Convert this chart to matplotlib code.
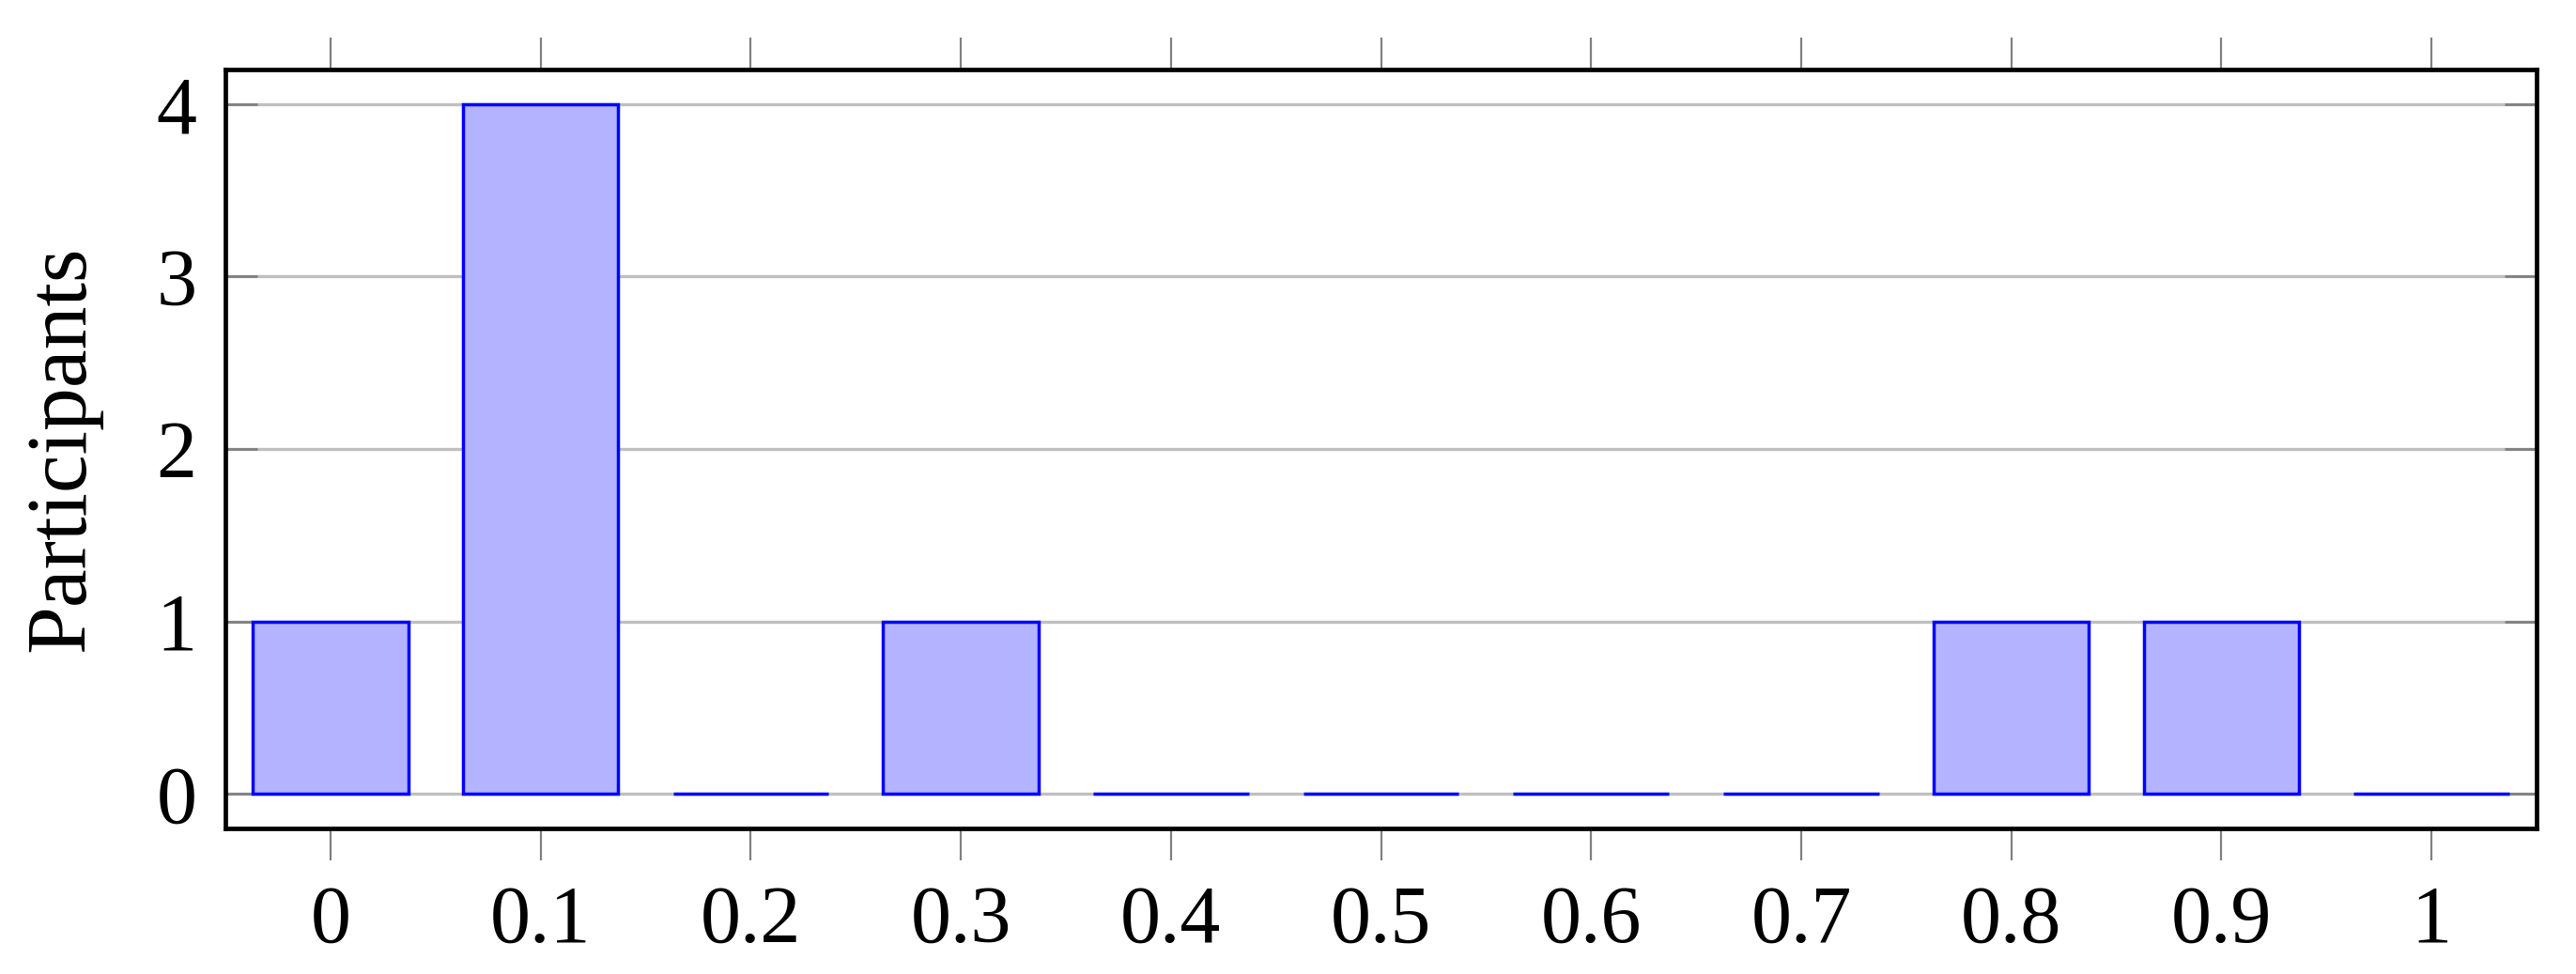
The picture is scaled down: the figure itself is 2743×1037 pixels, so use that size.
import matplotlib.pyplot as plt
import numpy as np

# data
scores = [0.0, 0.1, 0.2, 0.3, 0.4, 0.5, 0.6, 0.7, 0.8, 0.9, 1.0]
score_labels = ['0', '0.1', '0.2', '0.3', '0.4', '0.5', '0.6', '0.7', '0.8', '0.9', '1']
participants = [1, 4, 0, 1, 0, 0, 0, 0, 1, 1, 0]
y_ticks = [0, 1, 2, 3, 4]

plt.rcParams['font.family'] = ['Liberation Serif', 'DejaVu Serif']

fig = plt.figure(figsize=(27.43, 10.37), dpi=100)
ax = fig.add_axes([0.0875, 0.1495, 0.8972, 0.7791])

ax.bar(scores, participants, width=0.074, color='#b3b3ff',
       edgecolor='#0000ff', linewidth=2.5, zorder=2)

ax.set_xlim(-0.05, 1.05)
ax.set_ylim(-0.2, 4.2)
ax.set_xticks(scores)
ax.set_xticklabels(score_labels)
ax.set_yticks(y_ticks)

#######    grid + ticks    ######
ax.set_axisbelow(True)
ax.yaxis.grid(True, color='#bfbfbf', linewidth=2.4)
ax.tick_params(axis='x', direction='out', length=24.5, width=1.6,
               color='#808080', top=True, bottom=True, labelsize=62, pad=19)
ax.tick_params(axis='y', direction='in', length=24.5, width=2.0,
               color='#808080', left=True, right=True, labelsize=62, pad=22)

for s in ax.spines.values():
    s.set_linewidth(3.4)
    s.set_color('black')

ax.set_ylabel('Participants', fontsize=66, labelpad=42)

fig.savefig('out.png', dpi=100)
